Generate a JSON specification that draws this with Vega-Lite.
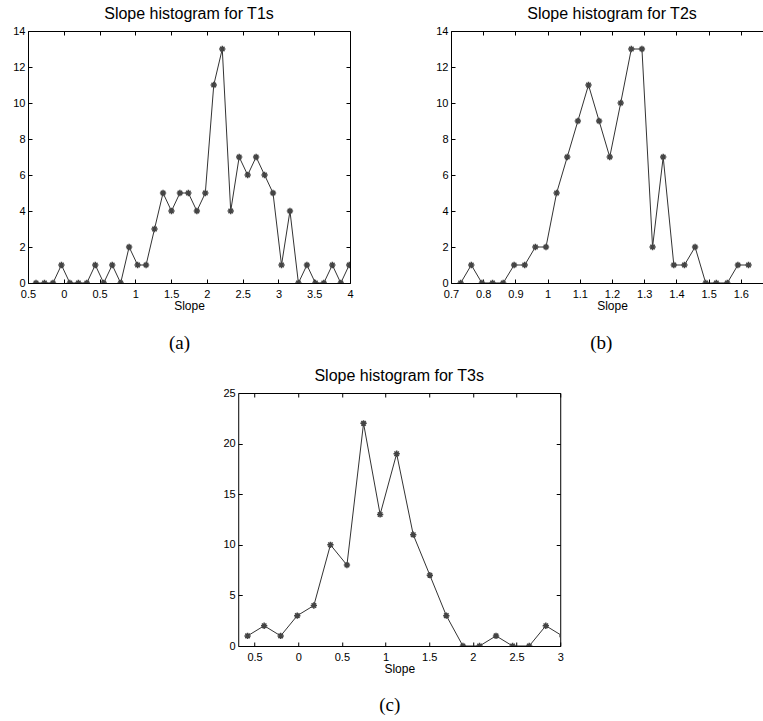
{
  "$schema": "https://vega.github.io/schema/vega-lite/v6.json",
  "padding": 5,
  "config": {
    "font": "Liberation Sans",
    "view": {"stroke": "#000", "strokeWidth": 1},
    "axis": {
      "grid": false, "domain": false, "tickColor": "#000", "tickSize": -4,
      "labelFont": "Liberation Sans", "labelFontSize": 11, "labelColor": "#000",
      "labelPadding": 7, "labelFlush": false, "labelOverlap": false, "format": "~g",
      "titleFont": "Liberation Sans", "titleFontSize": 12, "titleFontWeight": "normal",
      "titleColor": "#000", "titlePadding": 1
    },
    "axisX": {"labelPadding": 9},
    "title": {"font": "Liberation Sans", "fontSize": 16, "fontWeight": "normal", "color": "#000", "offset": 3}
  },
  "datasets": {
    "a": [
      {"slope": -0.388, "count": 0}, {"slope": -0.270, "count": 0}, {"slope": -0.151, "count": 0},
      {"slope": -0.033, "count": 1}, {"slope": 0.085, "count": 0}, {"slope": 0.204, "count": 0},
      {"slope": 0.322, "count": 0}, {"slope": 0.440, "count": 1}, {"slope": 0.558, "count": 0},
      {"slope": 0.677, "count": 1}, {"slope": 0.795, "count": 0}, {"slope": 0.913, "count": 2},
      {"slope": 1.032, "count": 1}, {"slope": 1.150, "count": 1}, {"slope": 1.268, "count": 3},
      {"slope": 1.387, "count": 5}, {"slope": 1.505, "count": 4}, {"slope": 1.623, "count": 5},
      {"slope": 1.741, "count": 5}, {"slope": 1.860, "count": 4}, {"slope": 1.978, "count": 5},
      {"slope": 2.096, "count": 11}, {"slope": 2.215, "count": 13}, {"slope": 2.333, "count": 4},
      {"slope": 2.451, "count": 7}, {"slope": 2.570, "count": 6}, {"slope": 2.688, "count": 7},
      {"slope": 2.806, "count": 6}, {"slope": 2.924, "count": 5}, {"slope": 3.043, "count": 1},
      {"slope": 3.161, "count": 4}, {"slope": 3.279, "count": 0}, {"slope": 3.398, "count": 1},
      {"slope": 3.516, "count": 0}, {"slope": 3.634, "count": 0}, {"slope": 3.753, "count": 1},
      {"slope": 3.871, "count": 0}, {"slope": 3.989, "count": 1}
    ],
    "b": [
      {"slope": 0.730, "count": 0}, {"slope": 0.763, "count": 1}, {"slope": 0.796, "count": 0},
      {"slope": 0.829, "count": 0}, {"slope": 0.862, "count": 0}, {"slope": 0.896, "count": 1},
      {"slope": 0.929, "count": 1}, {"slope": 0.962, "count": 2}, {"slope": 0.995, "count": 2},
      {"slope": 1.028, "count": 5}, {"slope": 1.061, "count": 7}, {"slope": 1.094, "count": 9},
      {"slope": 1.127, "count": 11}, {"slope": 1.160, "count": 9}, {"slope": 1.193, "count": 7},
      {"slope": 1.227, "count": 10}, {"slope": 1.260, "count": 13}, {"slope": 1.293, "count": 13},
      {"slope": 1.326, "count": 2}, {"slope": 1.359, "count": 7}, {"slope": 1.392, "count": 1},
      {"slope": 1.425, "count": 1}, {"slope": 1.458, "count": 2}, {"slope": 1.491, "count": 0},
      {"slope": 1.524, "count": 0}, {"slope": 1.558, "count": 0}, {"slope": 1.591, "count": 1},
      {"slope": 1.624, "count": 1}
    ],
    "c": [
      {"slope": -0.580, "count": 1}, {"slope": -0.390, "count": 2}, {"slope": -0.201, "count": 1},
      {"slope": -0.011, "count": 3}, {"slope": 0.179, "count": 4}, {"slope": 0.369, "count": 10},
      {"slope": 0.558, "count": 8}, {"slope": 0.748, "count": 22}, {"slope": 0.938, "count": 13},
      {"slope": 1.127, "count": 19}, {"slope": 1.317, "count": 11}, {"slope": 1.507, "count": 7},
      {"slope": 1.696, "count": 3}, {"slope": 1.886, "count": 0}, {"slope": 2.076, "count": 0},
      {"slope": 2.265, "count": 1}, {"slope": 2.455, "count": 0}, {"slope": 2.645, "count": 0},
      {"slope": 2.835, "count": 2}, {"slope": 3.024, "count": 1}
    ]
  },
  "vconcat": [
    {
      "hconcat": [
        {
          "title": {"text": "(a)", "orient": "bottom", "anchor": "middle", "font": "Liberation Serif", "fontSize": 19, "offset": 22},
          "vconcat": [
            {
              "title": "Slope histogram for T1s",
              "width": 322, "height": 252,
              "data": {"name": "a"},
              "layer": [
                {
                  "mark": {"type": "line", "color": "#333", "strokeWidth": 1, "clip": true},
                  "encoding": {
                    "x": {"field": "slope", "type": "quantitative", "title": "Slope",
                      "scale": {"domain": [-0.5, 4], "nice": false, "zero": false},
                      "axis": {"orient": "bottom", "values": [-0.5, 0, 0.5, 1, 1.5, 2, 2.5, 3, 3.5, 4],
                        "labelExpr": "replace(replace(datum.label, '\u2212', ''), '-', '')"}},
                    "y": {"field": "count", "type": "quantitative", "title": null,
                      "scale": {"domain": [0, 14], "nice": false},
                      "axis": {"orient": "left", "values": [0, 2, 4, 6, 8, 10, 12, 14], "minExtent": 22, "maxExtent": 22}}
                  }
                },
                {
                  "mark": {"type": "point", "shape": "M-1,0L1,0M0,-1L0,1M-0.71,-0.71L0.71,0.71M-0.71,0.71L0.71,-0.71", "filled": false, "color": "#444", "strokeWidth": 1.5, "size": 40, "opacity": 1, "clip": true},
                  "encoding": {
                    "x": {"field": "slope", "type": "quantitative", "axis": null},
                    "y": {"field": "count", "type": "quantitative", "axis": null}
                  }
                },
                {
                  "mark": {"type": "point", "opacity": 0, "clip": true},
                  "encoding": {
                    "x": {"field": "slope", "type": "quantitative",
                      "axis": {"orient": "top", "labels": false, "title": null, "values": [-0.5, 0, 0.5, 1, 1.5, 2, 2.5, 3, 3.5, 4], "minExtent": 0, "maxExtent": 0}},
                    "y": {"field": "count", "type": "quantitative",
                      "axis": {"orient": "right", "labels": false, "title": null, "values": [0, 2, 4, 6, 8, 10, 12, 14], "minExtent": 0, "maxExtent": 0}}
                  }
                }
              ],
              "resolve": {"axis": {"x": "independent", "y": "independent"}}
            }
          ]
        },
        {
          "title": {"text": "(b)", "orient": "bottom", "anchor": "middle", "font": "Liberation Serif", "fontSize": 19, "offset": 22},
          "vconcat": [
            {
              "title": "Slope histogram for T2s",
              "width": 322, "height": 252,
              "data": {"name": "b"},
              "layer": [
                {
                  "mark": {"type": "line", "color": "#333", "strokeWidth": 1, "clip": true},
                  "encoding": {
                    "x": {"field": "slope", "type": "quantitative", "title": "Slope",
                      "scale": {"domain": [0.7, 1.7], "nice": false, "zero": false},
                      "axis": {"orient": "bottom", "values": [0.7, 0.8, 0.9, 1, 1.1, 1.2, 1.3, 1.4, 1.5, 1.6]}},
                    "y": {"field": "count", "type": "quantitative", "title": null,
                      "scale": {"domain": [0, 14], "nice": false},
                      "axis": {"orient": "left", "values": [0, 2, 4, 6, 8, 10, 12, 14], "minExtent": 22, "maxExtent": 22}}
                  }
                },
                {
                  "mark": {"type": "point", "shape": "M-1,0L1,0M0,-1L0,1M-0.71,-0.71L0.71,0.71M-0.71,0.71L0.71,-0.71", "filled": false, "color": "#444", "strokeWidth": 1.5, "size": 40, "opacity": 1, "clip": true},
                  "encoding": {
                    "x": {"field": "slope", "type": "quantitative", "axis": null},
                    "y": {"field": "count", "type": "quantitative", "axis": null}
                  }
                },
                {
                  "mark": {"type": "point", "opacity": 0, "clip": true},
                  "encoding": {
                    "x": {"field": "slope", "type": "quantitative",
                      "axis": {"orient": "top", "labels": false, "title": null, "values": [0.7, 0.8, 0.9, 1, 1.1, 1.2, 1.3, 1.4, 1.5, 1.6], "minExtent": 0, "maxExtent": 0}},
                    "y": {"field": "count", "type": "quantitative",
                      "axis": {"orient": "right", "labels": false, "title": null, "values": [0, 2, 4, 6, 8, 10, 12, 14], "minExtent": 0, "maxExtent": 0}}
                  }
                }
              ],
              "resolve": {"axis": {"x": "independent", "y": "independent"}}
            }
          ]
        }
      ],
      "spacing": 74
    },
    {
      "title": {"text": "(c)", "orient": "bottom", "anchor": "middle", "font": "Liberation Serif", "fontSize": 19, "offset": 21},
      "vconcat": [
        {
          "title": "Slope histogram for T3s",
          "width": 322, "height": 253,
          "data": {"name": "c"},
          "layer": [
            {
              "mark": {"type": "line", "color": "#333", "strokeWidth": 1, "clip": true},
              "encoding": {
                "x": {"field": "slope", "type": "quantitative", "title": "Slope",
                  "scale": {"domain": [-0.687, 3], "nice": false, "zero": false},
                  "axis": {"orient": "bottom", "values": [-0.5, 0, 0.5, 1, 1.5, 2, 2.5, 3],
                    "labelExpr": "replace(replace(datum.label, '\u2212', ''), '-', '')"}},
                "y": {"field": "count", "type": "quantitative", "title": null,
                  "scale": {"domain": [0, 25], "nice": false},
                  "axis": {"orient": "left", "values": [0, 5, 10, 15, 20, 25], "minExtent": 22, "maxExtent": 22}}
              }
            },
            {
              "mark": {"type": "point", "shape": "M-1,0L1,0M0,-1L0,1M-0.71,-0.71L0.71,0.71M-0.71,0.71L0.71,-0.71", "filled": false, "color": "#444", "strokeWidth": 1.5, "size": 40, "opacity": 1, "clip": true},
              "encoding": {
                "x": {"field": "slope", "type": "quantitative", "axis": null},
                "y": {"field": "count", "type": "quantitative", "axis": null}
              }
            },
            {
              "mark": {"type": "point", "opacity": 0, "clip": true},
              "encoding": {
                "x": {"field": "slope", "type": "quantitative",
                  "axis": {"orient": "top", "labels": false, "title": null, "values": [-0.5, 0, 0.5, 1, 1.5, 2, 2.5, 3], "minExtent": 0, "maxExtent": 0}},
                "y": {"field": "count", "type": "quantitative",
                  "axis": {"orient": "right", "labels": false, "title": null, "values": [0, 5, 10, 15, 20, 25], "minExtent": 0, "maxExtent": 0}}
              }
            }
          ],
          "resolve": {"axis": {"x": "independent", "y": "independent"}}
        }
      ]
    }
  ],
  "spacing": 14,
  "center": true
}
